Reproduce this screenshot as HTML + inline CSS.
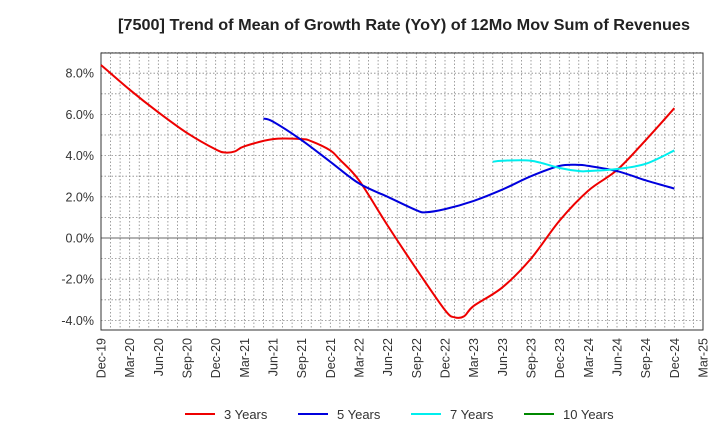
<!DOCTYPE html>
<html><head><meta charset="utf-8"><style>
body{margin:0;background:#fff;font-family:"Liberation Sans",Arial,sans-serif;}
</style></head><body>
<svg id="chart" width="720" height="440" xmlns="http://www.w3.org/2000/svg" font-family="Liberation Sans, Arial, sans-serif">
<text x="118" y="30" textLength="572" lengthAdjust="spacingAndGlyphs" font-size="16" font-weight="bold" fill="#222">[7500]  Trend of Mean of Growth Rate (YoY) of 12Mo Mov Sum of Revenues</text>
<g id="grid"></g>
<g id="axes"></g>
<g id="series"></g>
<g id="legend"></g>
</svg>
<script>
const xTickLabels=["Dec-19","Mar-20","Jun-20","Sep-20","Dec-20","Mar-21","Jun-21","Sep-21","Dec-21","Mar-22","Jun-22","Sep-22","Dec-22","Mar-23","Jun-23","Sep-23","Dec-23","Mar-24","Jun-24","Sep-24","Dec-24","Mar-25"];
const yTicks=[-4,-2,0,2,4,6,8];
const s3Months=[0,3,6,9,12,13,14,15,18,21,22,24,25,27,30,33,36,37,38,39,42,45,48,51,54,57,60];
const s3Values=[8.4,7.2,6.1,5.1,4.3,4.15,4.2,4.45,4.8,4.8,4.7,4.25,3.8,2.8,0.6,-1.5,-3.5,-3.85,-3.8,-3.3,-2.4,-1.0,0.85,2.3,3.3,4.75,6.3];
const s5Months=[17,18,21,24,27,30,33,34,36,39,42,45,48,50,51,54,57,60];
const s5Values=[5.8,5.65,4.75,3.7,2.65,2.0,1.35,1.25,1.4,1.8,2.35,3.0,3.5,3.55,3.5,3.25,2.8,2.4];
const s7Months=[41,42,45,48,50,51,54,57,60];
const s7Values=[3.7,3.75,3.75,3.4,3.25,3.25,3.35,3.6,4.25];
const legendLabels=["3 Years","5 Years","7 Years","10 Years"];
const NS="http://www.w3.org/2000/svg";
const L=101,R=703,T=53,B=330;
const xOf=m=>L+m*(R-L)/63;
const yOf=v=>238-v*20.6;
function el(t,a,p){const e=document.createElementNS(NS,t);for(const k in a)e.setAttribute(k,a[k]);p.appendChild(e);return e;}
const grid=document.getElementById('grid'),axes=document.getElementById('axes'),series=document.getElementById('series'),legend=document.getElementById('legend');
for(let m=1;m<63;m++){const g=el('line',{x1:xOf(m),x2:xOf(m),y1:T,y2:B,stroke:'#888','stroke-dasharray':'1.5,2','stroke-width':0.8},grid);

}
for(let v=-4;v<=9;v+=1){const g=el('line',{x1:L,x2:R,y1:yOf(v),y2:yOf(v),stroke:'#888','stroke-dasharray':'1.5,2','stroke-width':0.8},grid);

}
const zl=el('line',{x1:L,x2:R,y1:yOf(0),y2:yOf(0),stroke:'#666','stroke-width':1},axes);


const fr=el('rect',{x:L,y:T,width:R-L,height:B-T,fill:'none',stroke:'#333','stroke-width':1},axes);


yTicks.forEach(v=>{const t=el('text',{x:L-7,y:yOf(v)+4.5,'text-anchor':'end','font-size':12.5,fill:'#333'},axes);t.textContent=v.toFixed(1)+'%';

});
xTickLabels.forEach((s,i)=>{const x=xOf(i*3);const t=el('text',{x:x+4.5,y:B+8,'text-anchor':'end','font-size':12.5,fill:'#333',transform:`rotate(-90 ${x+4.5} ${B+8})`},axes);t.textContent=s;

});
function path(ms,vs){const p=ms.map((m,i)=>[xOf(m),yOf(vs[i])]);let d=`M${p[0][0]},${p[0][1]}`;
for(let i=0;i<p.length-1;i++){const p0=p[i-1]||p[i],p1=p[i],p2=p[i+1],p3=p[i+2]||p2;
d+=` C${p1[0]+(p2[0]-p0[0])/6},${p1[1]+(p2[1]-p0[1])/6} ${p2[0]-(p3[0]-p1[0])/6},${p2[1]-(p3[1]-p1[1])/6} ${p2[0]},${p2[1]}`;}return d;}
[[s3Months,s3Values,'#ee0000','series-3-years'],[s5Months,s5Values,'#0000dd','series-5-years'],[s7Months,s7Values,'#00eeee','series-7-years']].forEach(([m,v,c,n])=>{
const p=el('path',{d:path(m,v),fill:'none',stroke:c,'stroke-width':2},series);

});
const cols=['#ee0000','#0000dd','#00eeee','#008800'];
legendLabels.forEach((s,i)=>{const x=185+i*113;
const l=el('line',{x1:x,x2:x+30,y1:414,y2:414,stroke:cols[i],'stroke-width':2},legend);


const t=el('text',{x:x+39,y:419,'font-size':13,fill:'#333'},legend);t.textContent=s;

});
</script>
</body></html>
